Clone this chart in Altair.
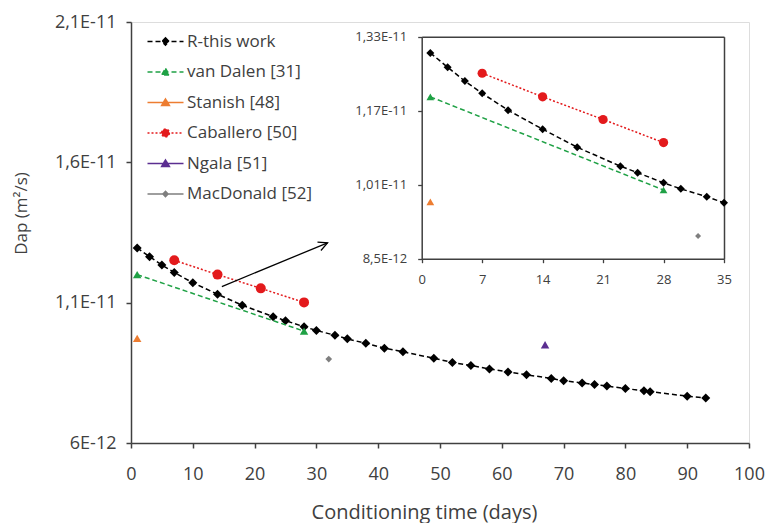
import altair as alt
import pandas as pd

# ---------------- data ----------------
series_names = ["R-this work", "van Dalen [31]", "Stanish [48]",
                "Caballero [50]", "Ngala [51]", "MacDonald [52]"]
series_colors = ["#000000", "#1FA145", "#ED7D31", "#E31A1C", "#5B2E91", "#7F7F7F"]

r_days = [1, 3, 5, 7, 10, 14, 18, 23, 25, 28, 30, 33, 35, 38, 41, 44, 49, 52,
          55, 58, 61, 64, 68, 70, 73, 75, 77, 80, 83, 84, 90, 93]
r_dap = [1.295e-11, 1.264e-11, 1.234e-11, 1.2075e-11, 1.171e-11, 1.130e-11,
         1.091e-11, 1.050e-11, 1.036e-11, 1.014e-11, 1.001e-11, 0.984e-11,
         0.971e-11, 0.955e-11, 0.938e-11, 0.925e-11, 0.902e-11, 0.887e-11,
         0.876e-11, 0.864e-11, 0.853e-11, 0.843e-11, 0.830e-11, 0.822e-11,
         0.814e-11, 0.808e-11, 0.803e-11, 0.794e-11, 0.786e-11, 0.783e-11,
         0.767e-11, 0.760e-11]
vandalen_days = [1, 28]
vandalen_dap = [1.200e-11, 0.9985e-11]
stanish_days = [1]
stanish_dap = [0.973e-11]
caballero_days = [7, 14, 21, 28]
caballero_dap = [1.251e-11, 1.200e-11, 1.151e-11, 1.101e-11]
ngala_days = [67]
ngala_dap = [0.950e-11]
macdonald_days = [32]
macdonald_dap = [0.899e-11]

x_ticks_main = [0, 10, 20, 30, 40, 50, 60, 70, 80, 90, 100]
y_ticks_main = [6e-12, 1.1e-11, 1.6e-11, 2.1e-11]
x_ticks_inset = [0, 7, 14, 21, 28, 35]
y_ticks_inset = [8.5e-12, 1.01e-11, 1.17e-11, 1.33e-11]

arrow_days = [14.7, 31.8]
arrow_dap = [1.1575e-11, 1.3131e-11]

# ---------------- tables ----------------
all_days = [r_days, vandalen_days, stanish_days, caballero_days, ngala_days, macdonald_days]
all_dap = [r_dap, vandalen_dap, stanish_dap, caballero_dap, ngala_dap, macdonald_dap]
rows = []
for name, ds, vs in zip(series_names, all_days, all_dap):
    for d, v in zip(ds, vs):
        rows.append({"series": name, "day": d, "dap": v})
df = pd.DataFrame(rows)
df_inset = df[df["day"] <= 35].reset_index(drop=True)
arrow_df = pd.DataFrame({"day": arrow_days, "dap": arrow_dap})
arrow_tip = arrow_df.tail(1)
legend_df = pd.DataFrame({"series": series_names})

# style per series: (dash or None, shape, main size, inset size)
style = {
    "R-this work": ([5, 3], "diamond", 81, 64),
    "van Dalen [31]": ([5, 3], "triangle-up", 72, 60),
    "Stanish [48]": (None, "triangle-up", 72, 60),
    "Caballero [50]": ([2, 2], "circle", 100, 85),
    "Ngala [51]": (None, "triangle-up", 72, 60),
    "MacDonald [52]": (None, "diamond", 45, 36),
}

FONT = "Open Sans"
TXT = "#404040"
AX = "#404040"
label_expr = "replace(replace(format(datum.value, '.3~e'), '.', ','), 'e', 'E')"

LEFT = 131   # page x of plot left
TOP = 22     # page y of plot top
W, H = 618, 421

# ---------------- main panel ----------------
X_main = alt.X("day:Q", scale=alt.Scale(domain=[0, 100], nice=False),
               axis=alt.Axis(values=x_ticks_main, orient="bottom", grid=False,
                             title="Conditioning time (days)", titleFont=FONT,
                             titleFontSize=20, titleFontWeight="normal", titleColor=TXT,
                             titleX=424 - LEFT, titleY=75, titleBaseline="alphabetic",
                             titleAlign="center",
                             labelFont=FONT, labelFontSize=18, labelColor=TXT,
                             labelPadding=17, tickSize=5, tickColor=AX, domainColor=AX,
                             domainWidth=1.5, tickWidth=1.5, labelFlush=False))
Y_main = alt.Y("dap:Q", scale=alt.Scale(domain=[6e-12, 2.1e-11], nice=False, zero=False),
               axis=alt.Axis(values=y_ticks_main, orient="left", grid=False,
                             title="Dap (m²/s)", titleFont=FONT, titleFontSize=17,
                             titleFontWeight="normal", titleColor=TXT,
                             titleX=26 - LEFT, titleY=213 - TOP, titleBaseline="alphabetic",
                             titleAlign="center",
                             labelExpr=label_expr, labelFont=FONT, labelFontSize=18,
                             labelColor=TXT, labelPadding=10, tickSize=5,
                             tickColor=AX, domainColor=AX, domainWidth=1.5,
                             tickWidth=1.5, labelFlush=False))

# inset geometry (plot-area pixels)
IN_X0, IN_X1 = 421.7 - LEFT, 724 - LEFT
IN_Y0, IN_Y1 = 258.7 - TOP, 36.7 - TOP  # bottom, top

X_in = alt.X("day:Q", scale=alt.Scale(domain=[0, 35], range=[IN_X0, IN_X1], nice=False),
             axis=alt.Axis(values=x_ticks_inset, orient="bottom", offset=-(H - IN_Y0),
                           grid=False, title=None, labelFont=FONT, labelFontSize=13,
                           labelColor=TXT, labelPadding=11, tickSize=4, tickColor=AX,
                           domainColor=AX, domainWidth=1.5, tickWidth=1.3,
                           labelFlush=False))
Y_in = alt.Y("dap:Q", scale=alt.Scale(domain=[8.5e-12, 1.33e-11], range=[IN_Y0, IN_Y1],
                                      nice=False, zero=False),
             axis=alt.Axis(values=y_ticks_inset, orient="left", offset=-IN_X0, grid=False,
                           title=None, labelExpr=label_expr, labelFont=FONT,
                           labelFontSize=13, labelColor=TXT, labelPadding=11,
                           tickSize=4, tickColor=AX, domainColor=AX, domainWidth=1.5,
                           tickWidth=1.3, labelFlush=False))
X_in_top = alt.X("day:Q", scale=alt.Scale(domain=[0, 35], range=[IN_X0, IN_X1], nice=False),
                 axis=alt.Axis(orient="top", offset=-IN_Y1, labels=False, ticks=False,
                               grid=False, title=None, domainColor=AX, domainWidth=1.5))
Y_in_right = alt.Y("dap:Q", scale=alt.Scale(domain=[8.5e-12, 1.33e-11], range=[IN_Y0, IN_Y1],
                                            nice=False, zero=False),
                   axis=alt.Axis(orient="right", offset=-(W - IN_X1), labels=False,
                                 ticks=False, grid=False, title=None, domainColor=AX,
                                 domainWidth=1.5))


def series_layers(data, X, Y, inset):
    out = []
    for name, color in zip(series_names, series_colors):
        dash, shape, s_main, s_in = style[name]
        base = alt.Chart(data).transform_filter(alt.datum.series == name)
        if dash is not None:
            out.append(base.mark_line(color=color, strokeDash=dash, strokeWidth=1.5)
                       .encode(x=X, y=Y, order="day:Q"))
        out.append(base.mark_point(shape=shape, filled=True, opacity=1, color=color,
                                   size=s_in if inset else s_main, strokeWidth=0)
                   .encode(x=X, y=Y))
    return out


# legend source (off-canvas points that only feed the legend)
legend_shapes = [
    "M-3,0L3,0M0,-0.6L0.6,0L0,0.6L-0.6,0Z",
    "M-3,0L3,0M0,-0.6L0.65,0.5L-0.65,0.5Z",
    "M-3,0L3,0M0,-0.6L0.65,0.5L-0.65,0.5Z",
    "M-3,0L3,0M0.65,0A0.65,0.65,0,1,1,-0.65,0A0.65,0.65,0,1,1,0.65,0Z",
    "M-3,0L3,0M0,-0.6L0.65,0.5L-0.65,0.5Z",
    "M-3,0L3,0M0,-0.45L0.45,0L0,0.45L-0.45,0Z",
]
legend_dashes = [[5, 3], [5, 3], [1, 0], [2, 2], [1, 0], [1, 0]]
leg = alt.Legend(title=None, orient="none", legendX=157 - LEFT, legendY=41 - TOP - 8,
                 labelFont=FONT, labelFontSize=17, labelColor=TXT, labelOffset=13,
                 rowPadding=12.5, symbolSize=144, symbolStrokeWidth=1.5, padding=0)
legend_src = alt.Chart(legend_df).mark_point(filled=True, opacity=1, size=144).encode(
    x=alt.value(-3000), y=alt.value(-3000),
    color=alt.Color("series:N", scale=alt.Scale(domain=series_names, range=series_colors), legend=leg),
    stroke=alt.Stroke("series:N", scale=alt.Scale(domain=series_names, range=series_colors), legend=leg),
    shape=alt.Shape("series:N", scale=alt.Scale(domain=series_names, range=legend_shapes), legend=leg),
    strokeDash=alt.StrokeDash("series:N", scale=alt.Scale(domain=series_names, range=legend_dashes), legend=leg),
)

arrow_line = alt.Chart(arrow_df).mark_line(color="#000000", strokeWidth=1.3).encode(
    x=X_main, y=Y_main)
arrow_head = alt.Chart(arrow_tip).mark_point(shape="M-0.5,1L0,0L0.5,1", filled=False,
                                             size=324, angle=67.5, strokeWidth=1.3,
                                             color="#000000", opacity=1).encode(
    x=X_main, y=Y_main)

main_group = alt.layer(*series_layers(df, X_main, Y_main, False), arrow_line, arrow_head,
                       legend_src)

inset_data = alt.layer(*series_layers(df_inset, X_in, Y_in, True))
inset_frame = alt.Chart(df_inset).mark_point(opacity=0).encode(x=X_in_top, y=Y_in_right)
inset_group = alt.layer(inset_data, inset_frame)

chart = alt.layer(main_group, inset_group).resolve_scale(
    x="independent", y="independent"
).properties(
    width=W, height=H,
    autosize=alt.AutoSizeParams(type="none"),
    padding={"left": LEFT - 8, "top": TOP - 8, "right": 757 - (LEFT - 8) - W, "bottom": 80},
).configure_view(stroke=AX, strokeWidth=1.5).configure(background="white")

chart.save("out.html", embed_options={"renderer": "svg", "actions": False})
